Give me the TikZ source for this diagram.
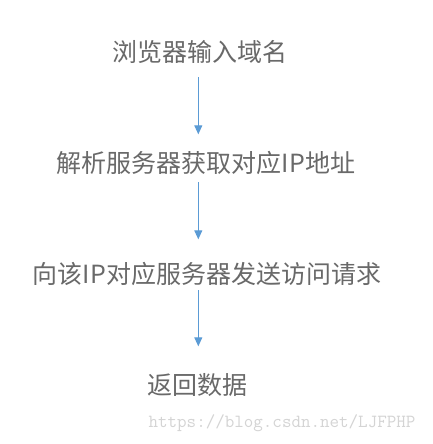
\documentclass[tikz,border=0pt]{standalone}
\usepackage{fontspec}
\newfontfamily\cjk{Noto Sans CJK SC}
\usetikzlibrary{arrows.meta}
\definecolor{txtgray}{RGB}{105,105,105}
\definecolor{arrblue}{RGB}{91,155,213}
\definecolor{wmgray}{RGB}{212,212,212}
\tikzset{
  steptext/.style={inner sep=0pt, anchor=base, text height=21pt, text depth=1.5pt,
    font=\cjk\fontsize{25pt}{25pt}\selectfont, text=txtgray},
  flowarrow/.style={draw=arrblue, line width=1pt, -{Triangle[length=9pt,width=8pt]}},
  watermark/.style={inner sep=0pt, font=\ttfamily\fontsize{18.5pt}{18.5pt}\selectfont, text=wmgray}
}
\begin{document}
\begin{tikzpicture}[x=1pt,y=1pt]
\useasboundingbox (0,0) rectangle (433,-444);
\fill[white] (0,0) rectangle (433,-444);
\coordinate (ax) at (198.3,0);
\node[steptext] (t1) at (200,-61.5) {浏览器输入域名};
\node[steptext] (t2) at (206,-172.5) {解析服务器获取对应IP地址};
\node[steptext] (t3) at (207,-283.5) {向该IP对应服务器发送访问请求};
\node[steptext] (t4) at (197.5,-394.5) {返回数据};
\node[watermark] (wm) at (282,-423.5) {https://blog.csdn.net/LJFPHP};
\draw[flowarrow] ([yshift=-14pt]t1.south -| ax) -- ([yshift=17pt]t2.north -| ax);
\draw[flowarrow] ([yshift=-8pt]t2.south -| ax) -- ([yshift=23pt]t3.north -| ax);
\draw[flowarrow] ([yshift=-5pt]t3.south -| ax) -- ([yshift=27pt]t4.north -| ax);
\end{tikzpicture}
\end{document}
